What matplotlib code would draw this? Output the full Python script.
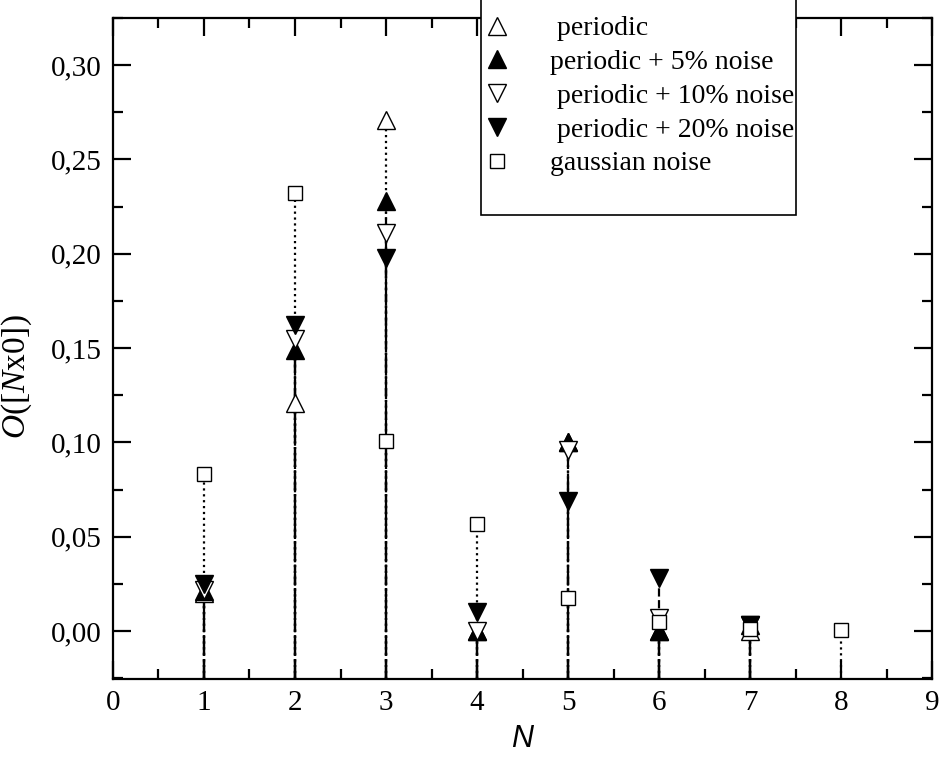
import matplotlib
matplotlib.use("Agg")
import matplotlib.pyplot as plt
from matplotlib.lines import Line2D
from matplotlib.patches import Rectangle
from matplotlib.ticker import FuncFormatter, MultipleLocator

N = [1, 2, 3, 4, 5, 6, 7, 8]
periodic = [0.020, 0.121, 0.271, 0.000, 0.100, 0.000, 0.000, None]
noise5 = [0.021, 0.149, 0.228, 0.000, 0.100, 0.000, 0.003, None]
noise10 = [0.022, 0.155, 0.211, 0.000, 0.096, 0.007, 0.003, None]
noise20 = [0.025, 0.162, 0.198, 0.010, 0.069, 0.028, 0.003, None]
gaussian = [0.083, 0.232, 0.101, 0.057, 0.0175, 0.005, 0.001, 0.0005]

labels = [" periodic", "periodic + 5% noise", " periodic + 10% noise",
          " periodic + 20% noise", "gaussian noise"]

plt.rcParams['font.family'] = ['Liberation Serif', 'DejaVu Serif']
plt.rcParams['mathtext.fontset'] = 'custom'
plt.rcParams['mathtext.it'] = 'Liberation Serif:italic'
plt.rcParams['mathtext.rm'] = 'Liberation Serif'

fig = plt.figure(figsize=(9.44, 7.75), dpi=100)
ax = fig.add_axes([0.1197, 0.1239, 0.8676, 0.8529])

ymin, ymax = -0.0254, 0.325
series = [
    (periodic, '^', 'white', ':'),
    (noise5, '^', 'black', '-.'),
    (noise10, 'v', 'white', (0, (5, 2, 1.5, 2, 1.5, 2))),
    (noise20, 'v', 'black', '--'),
    (gaussian, 's', 'white', ':'),
]
# drop lines
for vals, m, fc, ls in series:
    for x, v in zip(N, vals):
        if v is None:
            continue
        ax.plot([x, x], [ymin, v], color='black', lw=1.6, ls=ls, zorder=1)

handles = []
for (vals, m, fc, ls), lab in zip(series, labels):
    xs = [x for x, v in zip(N, vals) if v is not None]
    ys = [v for v in vals if v is not None]
    ms = 10 if m == 's' else 13
    ax.plot(xs, ys, ls='none', marker=m, ms=ms, mfc=fc, mec='black', mew=1.0, zorder=3)
    handles.append(Line2D([], [], ls='none', marker=m, ms=ms, mfc=fc, mec='black', mew=1.0))

ax.set_xlim(0, 9)
ax.set_ylim(ymin, ymax)
ax.xaxis.set_major_locator(MultipleLocator(1))
ax.xaxis.set_minor_locator(MultipleLocator(0.5))
ax.yaxis.set_major_locator(MultipleLocator(0.05))
ax.yaxis.set_minor_locator(MultipleLocator(0.025))
ax.yaxis.set_major_formatter(FuncFormatter(lambda v, p: f"{v:.2f}".replace('.', ',').replace('-0,00', '0,00')))
ax.tick_params(which='both', direction='in', top=True, right=True, width=1.6, labelsize=21)
ax.tick_params(which='major', length=13, pad=8)
ax.tick_params(which='minor', length=7)
for s in ax.spines.values():
    s.set_linewidth(1.6)

ax.set_xlabel('N', fontfamily='Liberation Sans', fontstyle='italic', fontsize=22, labelpad=6)
ax.set_ylabel(r'$\mathit{O}$([$\mathit{N}$x0])', fontsize=24)
ax.yaxis.set_label_coords(-0.097, 0.457)

# legend frame
fig.patches.append(Rectangle((481 / 944, 1 - 215 / 775), 315 / 944, 215 / 775 + 0.01,
                             transform=fig.transFigure, facecolor='white',
                             edgecolor='black', lw=1.2, zorder=5))
leg = fig.legend(handles, labels, loc='upper left',
                 bbox_to_anchor=(472 / 944, 1 - 9 / 775), bbox_transform=fig.transFigure,
                 fontsize=20, frameon=False, handletextpad=1.27, labelspacing=0.3,
                 borderpad=0.25, handlelength=1.3, borderaxespad=0)
leg.set_zorder(6)

fig.savefig('out.png', dpi=100)
